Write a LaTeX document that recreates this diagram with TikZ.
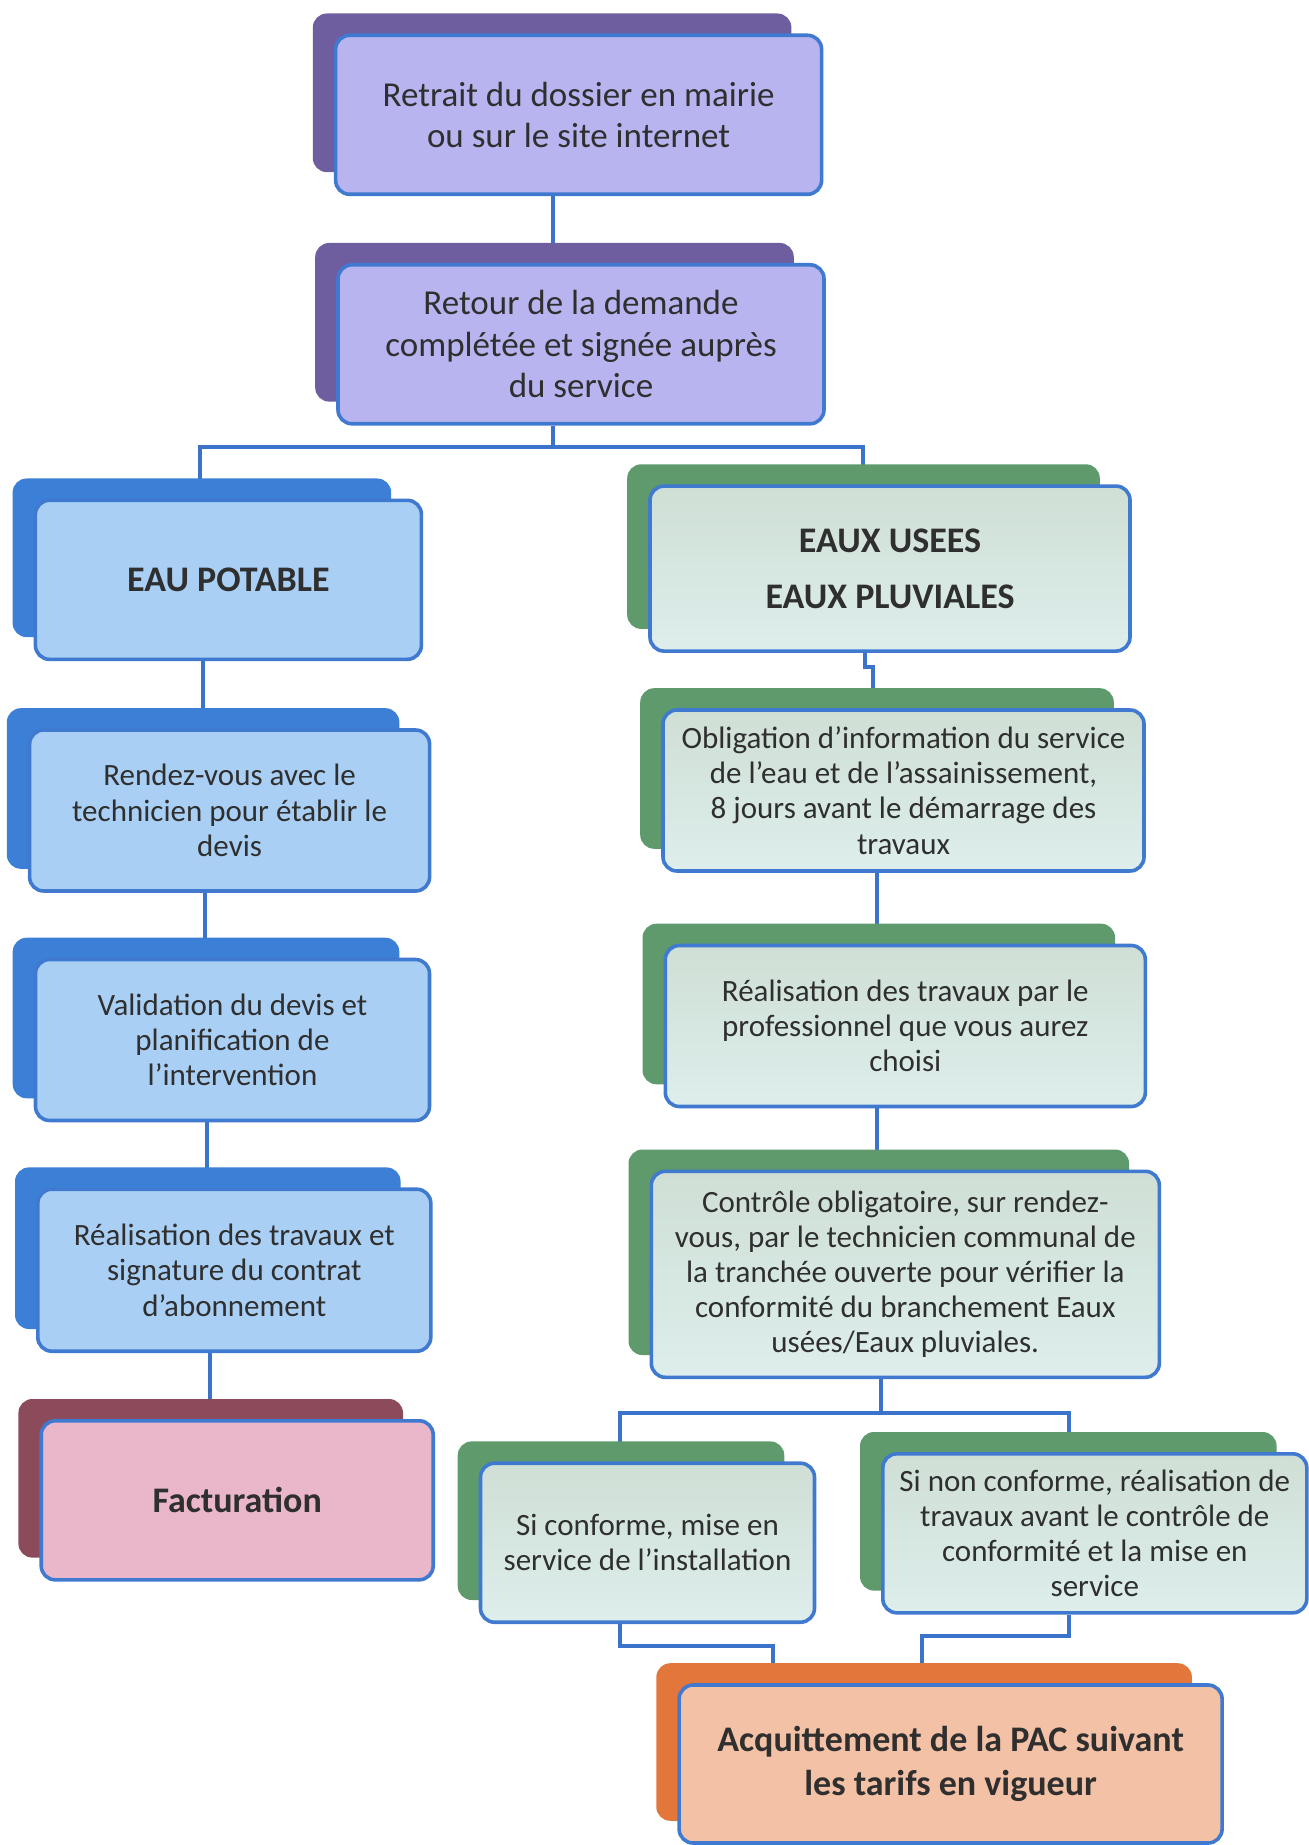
\documentclass[tikz,border=0pt]{standalone}
\usepackage{fontspec}
\setmainfont{Carlito}
\usetikzlibrary{calc,backgrounds}

\definecolor{purpleback}{HTML}{6E5D9F}
\definecolor{purplefront}{HTML}{B8B4EF}
\definecolor{blueback}{HTML}{3B80D6}
\definecolor{bluefront}{HTML}{A9CFF4}
\definecolor{greenback}{HTML}{5E9A6C}
\definecolor{greenfront}{HTML}{CFDFD5}
\definecolor{greenlight}{HTML}{DDEEEC}
\definecolor{roseback}{HTML}{8B4B5B}
\definecolor{rosefront}{HTML}{E9B6CA}
\definecolor{orangeback}{HTML}{E3773B}
\definecolor{orangefront}{HTML}{F3C1A5}
\definecolor{frameblue}{HTML}{4079D0}
\definecolor{lineblue}{HTML}{3A73C9}
\definecolor{textgray}{HTML}{2F2F2F}

\tikzset{
  front/.style={draw=frameblue, line width=1.8pt, rounded corners=7pt,
    align=center, text=textgray, inner sep=2pt},
  greenbox/.style={front, top color=greenfront, bottom color=greenlight},
  card/.style={rounded corners=7pt},
  link/.style={draw=lineblue, line width=2pt},
  small/.style={font=\fontsize{15.5}{17.6}\selectfont},
  large/.style={font=\fontsize{17.5}{20.8}\selectfont},
  heading/.style={font=\bfseries\fontsize{18}{22}\selectfont}
}

\begin{document}
\begin{tikzpicture}[x=0.5pt,y=-0.5pt]
  \useasboundingbox (0,0) rectangle (1309,1845);

  \node[front, large, fill=purplefront, minimum width=243pt, minimum height=79.5pt]
    (p1) at (578.6,114.8) {Retrait du dossier en mairie\\ou sur le site internet};
  \node[front, large, fill=purplefront, minimum width=243pt, minimum height=79.5pt]
    (p2) at (581,344.3) {Retour de la demande\\complétée et signée auprès\\du service};

  \node[front, heading, fill=bluefront, minimum width=193pt, minimum height=79.5pt]
    (b1) at (228.4,579.8) {EAU POTABLE};
  \node[front, small, fill=bluefront, minimum width=200pt, minimum height=80.5pt]
    (b2) at (229.6,810.5) {Rendez-vous avec le\\technicien pour établir le\\devis};
  \node[front, small, fill=bluefront, minimum width=197pt, minimum height=80.5pt]
    (b3) at (232.5,1040) {Validation du devis et\\planification de\\l’intervention};
  \node[front, small, fill=bluefront, minimum width=196.5pt, minimum height=81pt]
    (b4) at (234.3,1270.2) {Réalisation des travaux et\\signature du contrat\\d’abonnement};
  \node[front, heading, fill=rosefront, minimum width=196pt, minimum height=79.5pt]
    (b5) at (237.2,1500.3) {Facturation};

  \node[greenbox, heading, minimum width=240pt, minimum height=82.5pt]
    (g1) at (890,568.6) {EAUX USEES\\[6pt]EAUX PLUVIALES};
  \node[greenbox, small, minimum width=240.5pt, minimum height=80.5pt]
    (g2) at (903.5,790.5) {Obligation d’information du service\\de l’eau et de l’assainissement,\\8 jours avant le démarrage des\\travaux};
  \node[greenbox, small, minimum width=240pt, minimum height=80.5pt]
    (g3) at (905.3,1026) {Réalisation des travaux par le\\professionnel que vous aurez\\choisi};
  \node[greenbox, small, minimum width=254pt, minimum height=103pt]
    (g4) at (905.3,1274.3) {Contrôle obligatoire, sur rendez-\\vous, par le technicien communal de\\la tranchée ouverte pour vérifier la\\conformité du branchement Eaux\\usées/Eaux pluviales.};
  \node[greenbox, small, minimum width=167pt, minimum height=79.5pt]
    (g5) at (647.5,1542.7) {Si conforme, mise en\\service de l’installation};
  \node[greenbox, small, minimum width=212pt, minimum height=79.5pt]
    (g6) at (1094.8,1533.3) {Si non conforme, réalisation de\\travaux avant le contrôle de\\conformité et la mise en\\service};

  \node[front, heading, fill=orangefront, minimum width=271.5pt, minimum height=79pt]
    (o1) at (950.6,1764) {Acquittement de la PAC suivant\\les tarifs en vigueur};

  \coordinate (s1) at (553,447);
  \coordinate (s2) at (880.5,1412.6);
  \coordinate (j1) at (873,667);
  \coordinate (j2) at (773,1646);
  \coordinate (j3) at (921.7,1636);

  \begin{scope}[on background layer]
    \draw[link] (p1.south -| s1) -- (p2.north -| s1);
    \draw[link] (p2.south -| s1) -- (s1);
    \draw[link] (b1.north -| 200,0) |- (s1) -| (g1.north -| 863,0);
    \draw[link] (b1.south -| 202.5,0) -- (b2.north -| 202.5,0);
    \draw[link] (b2.south -| 205,0) -- (b3.north -| 205,0);
    \draw[link] (b3.south -| 207,0) -- (b4.north -| 207,0);
    \draw[link] (b4.south -| 209.5,0) -- (b5.north -| 209.5,0);
    \draw[link] (g1.south -| 865,0) |- (j1) -- (g2.north -| j1);
    \draw[link] (g2.south -| 877,0) -- (g3.north -| 877,0);
    \draw[link] (g3.south -| 877,0) -- (g4.north -| 877,0);
    \draw[link] (g4.south -| s2) -- (s2);
    \draw[link] (g5.north -| 620,0) |- (s2) -| (g6.north -| 1069,0);
    \draw[link] (g5.south -| 620,0) |- (j2) -- (o1.north -| j2);
    \draw[link] (g6.south -| 1069,0) |- (j3) -- (o1.north -| j3);

    \fill[card, purpleback] ($(p1.north west)+(-21,-20)$) rectangle ($(p1.south east)+(-32,-24)$);
    \fill[card, purpleback] ($(p2.north west)+(-21,-20)$) rectangle ($(p2.south east)+(-32,-24)$);
    \fill[card, blueback] ($(b1.north west)+(-21,-20)$) rectangle ($(b1.south east)+(-32,-24)$);
    \fill[card, blueback] ($(b2.north west)+(-21,-20)$) rectangle ($(b2.south east)+(-32,-24)$);
    \fill[card, blueback] ($(b3.north west)+(-21,-20)$) rectangle ($(b3.south east)+(-32,-24)$);
    \fill[card, blueback] ($(b4.north west)+(-21,-20)$) rectangle ($(b4.south east)+(-32,-24)$);
    \fill[card, roseback] ($(b5.north west)+(-21,-20)$) rectangle ($(b5.south east)+(-32,-24)$);
    \fill[card, greenback] ($(g1.north west)+(-21,-20)$) rectangle ($(g1.south east)+(-32,-24)$);
    \fill[card, greenback] ($(g2.north west)+(-21,-20)$) rectangle ($(g2.south east)+(-32,-24)$);
    \fill[card, greenback] ($(g3.north west)+(-21,-20)$) rectangle ($(g3.south east)+(-32,-24)$);
    \fill[card, greenback] ($(g4.north west)+(-21,-20)$) rectangle ($(g4.south east)+(-32,-24)$);
    \fill[card, greenback] ($(g5.north west)+(-21,-20)$) rectangle ($(g5.south east)+(-32,-24)$);
    \fill[card, greenback] ($(g6.north west)+(-21,-20)$) rectangle ($(g6.south east)+(-32,-24)$);
    \fill[card, orangeback] ($(o1.north west)+(-21,-20)$) rectangle ($(o1.south east)+(-32,-24)$);
  \end{scope}
\end{tikzpicture}
\end{document}
